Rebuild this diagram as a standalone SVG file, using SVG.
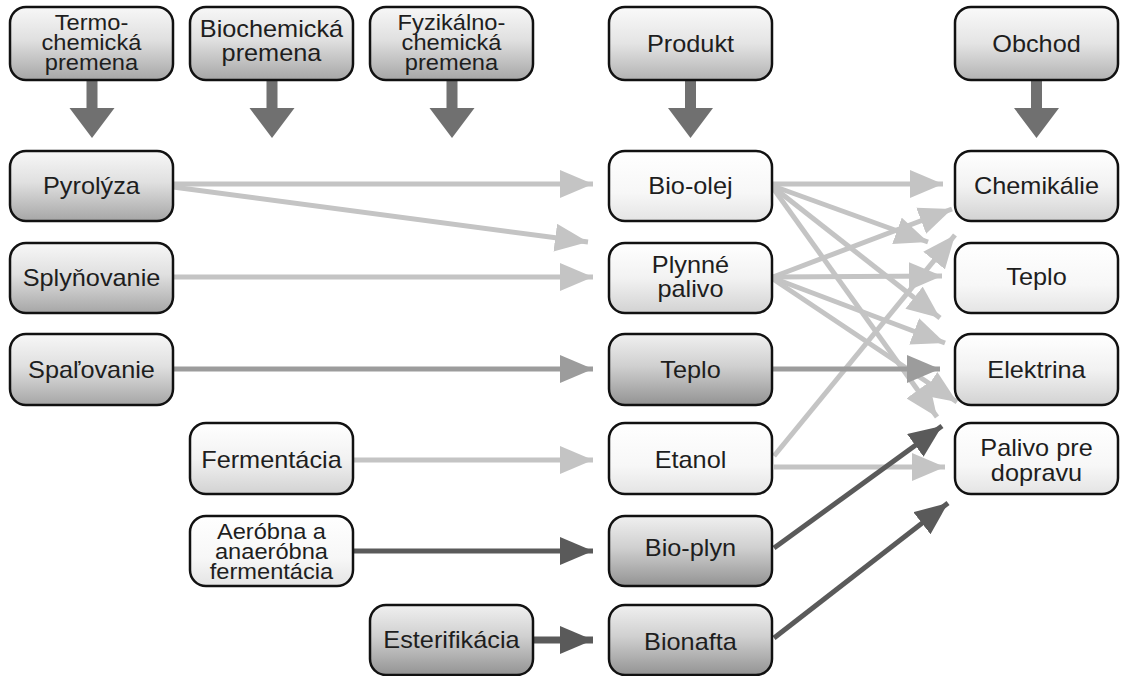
<svg xmlns="http://www.w3.org/2000/svg" width="1125" height="676" viewBox="0 0 1125 676">
<defs>
<linearGradient id="gHead" x1="0" y1="0" x2="0" y2="1"><stop offset="0" stop-color="#f7f7f7"/><stop offset="0.45" stop-color="#e0e0e0"/><stop offset="1" stop-color="#a6a6a6"/></linearGradient>
<linearGradient id="gMid" x1="0" y1="0" x2="0" y2="1"><stop offset="0" stop-color="#fafafa"/><stop offset="0.5" stop-color="#e4e4e4"/><stop offset="1" stop-color="#b2b2b2"/></linearGradient>
<linearGradient id="gDark" x1="0" y1="0" x2="0" y2="1"><stop offset="0" stop-color="#f0f0f0"/><stop offset="0.45" stop-color="#d0d0d0"/><stop offset="1" stop-color="#939393"/></linearGradient>
<linearGradient id="gLight" x1="0" y1="0" x2="0" y2="1"><stop offset="0" stop-color="#ffffff"/><stop offset="0.5" stop-color="#f2f2f2"/><stop offset="1" stop-color="#d2d2d2"/></linearGradient>
<linearGradient id="gVLight" x1="0" y1="0" x2="0" y2="1"><stop offset="0" stop-color="#ffffff"/><stop offset="0.6" stop-color="#f7f7f7"/><stop offset="1" stop-color="#e4e4e4"/></linearGradient>
<marker id="mLight" viewBox="0 0 33 28" refX="33" refY="14" markerWidth="33" markerHeight="28" markerUnits="userSpaceOnUse" orient="auto"><path d="M0,0 L33,14 L0,28 Z" fill="#c4c4c4"/></marker>
<marker id="mMed" viewBox="0 0 33 28" refX="33" refY="14" markerWidth="33" markerHeight="28" markerUnits="userSpaceOnUse" orient="auto"><path d="M0,0 L33,14 L0,28 Z" fill="#9c9c9c"/></marker>
<marker id="mDark" viewBox="0 0 33 28" refX="33" refY="14" markerWidth="33" markerHeight="28" markerUnits="userSpaceOnUse" orient="auto"><path d="M0,0 L33,14 L0,28 Z" fill="#5a5a5a"/></marker>
</defs>
<style>
.box{stroke:#111;stroke-width:2.5}
.t{font-family:"Liberation Sans",Arial,sans-serif;font-size:23px;fill:#1e1e1e;text-anchor:middle;transform-box:fill-box;transform-origin:center;transform:scaleX(1.1)}
.m{font-size:21.5px}
.c{fill:none;stroke-linecap:butt}
.light{stroke:#c4c4c4;stroke-width:5;marker-end:url(#mLight)}
.med{stroke:#9c9c9c;stroke-width:5;marker-end:url(#mMed)}
.dark{stroke:#5a5a5a;stroke-width:5;marker-end:url(#mDark)}
.harrow{fill:#707070}
</style>
<rect width="1125" height="676" fill="#ffffff"/>

<g id="connectors">
<path class="harrow" d="M86.5,80 h11 v28 h17 l-22.5,30 l-22.5,-30 h17 z"/>
<path class="harrow" d="M266.5,80 h11 v28 h17 l-22.5,30 l-22.5,-30 h17 z"/>
<path class="harrow" d="M446.5,80 h11 v28 h17 l-22.5,30 l-22.5,-30 h17 z"/>
<path class="harrow" d="M685,80 h11 v28 h17 l-22.5,30 l-22.5,-30 h17 z"/>
<path class="harrow" d="M1031,80 h11 v28 h17 l-22.5,30 l-22.5,-30 h17 z"/>
<path class="c light" d="M173,184 L593,184"/>
<path class="c light" d="M173,187 L588,242"/>
<path class="c light" d="M173,277 L593,277"/>
<path class="c med" d="M173,369 L593,369"/>
<path class="c light" d="M353,460 L593,460"/>
<path class="c dark" d="M353,551 L593,551"/>
<path class="c dark" style="stroke-width:7" d="M533,640 L593,640"/>
<path class="c light" d="M773,184 L943,184"/>
<path class="c light" d="M773,186 L928,242"/>
<path class="c light" d="M773,187 L940,318"/>
<path class="c light" d="M773,188 L937,417"/>
<path class="c light" d="M773,277 L952,209"/>
<path class="c light" d="M773,277 L942,276"/>
<path class="c light" d="M773,278 L945,343"/>
<path class="c light" d="M773,279 L957,402"/>
<path class="c light" d="M774,456 L955,235"/>
<path class="c light" d="M774,467 L945,467"/>
<path class="c med" d="M772,369 L940,369"/>
<path class="c dark" d="M774,548 L942,426"/>
<path class="c dark" d="M774,638 L948,503"/>
</g>

<g id="n_termo"><rect class="box" x="10" y="7" width="163" height="73" rx="16" fill="url(#gHead)"/><text class="t m"><tspan x="91.5" y="30">Termo-</tspan><tspan x="91.5" y="50">chemická</tspan><tspan x="91.5" y="70">premena</tspan></text></g>
<g id="n_bio"><rect class="box" x="190" y="7" width="163" height="73" rx="16" fill="url(#gHead)"/><text class="t"><tspan x="271.5" y="37">Biochemická</tspan><tspan x="271.5" y="61">premena</tspan></text></g>
<g id="n_fyz"><rect class="box" x="370" y="7" width="163" height="73" rx="16" fill="url(#gHead)"/><text class="t m"><tspan x="451.5" y="30">Fyzikálno-</tspan><tspan x="451.5" y="50">chemická</tspan><tspan x="451.5" y="70">premena</tspan></text></g>
<g id="n_produkt"><rect class="box" x="609" y="7" width="163" height="73" rx="16" fill="url(#gMid)"/><text class="t" x="690.5" y="52">Produkt</text></g>
<g id="n_obchod"><rect class="box" x="955" y="7" width="163" height="73" rx="16" fill="url(#gMid)"/><text class="t" x="1036.5" y="52">Obchod</text></g>

<g id="n_pyrolyza"><rect class="box" x="10" y="151" width="163" height="70" rx="16" fill="url(#gHead)"/><text class="t" x="91.5" y="194">Pyrolýza</text></g>
<g id="n_splynovanie"><rect class="box" x="10" y="243" width="163" height="70" rx="16" fill="url(#gHead)"/><text class="t" x="91.5" y="286">Splyňovanie</text></g>
<g id="n_spalovanie"><rect class="box" x="10" y="334" width="163" height="71" rx="16" fill="url(#gHead)"/><text class="t" x="91.5" y="378">Spaľovanie</text></g>
<g id="n_fermentacia"><rect class="box" x="190" y="423" width="163" height="71" rx="16" fill="url(#gLight)"/><text class="t" x="271.5" y="468">Fermentácia</text></g>
<g id="n_aerobna"><rect class="box" x="190" y="516" width="163" height="70" rx="16" fill="url(#gVLight)"/><text class="t m"><tspan x="271.5" y="539">Aeróbna a</tspan><tspan x="271.5" y="559">anaeróbna</tspan><tspan x="271.5" y="579">fermentácia</tspan></text></g>
<g id="n_esterifikacia"><rect class="box" x="370" y="605" width="163" height="70" rx="16" fill="url(#gDark)"/><text class="t" x="451.5" y="648">Esterifikácia</text></g>

<g id="n_bioolej"><rect class="box" x="609" y="151" width="163" height="70" rx="16" fill="url(#gVLight)"/><text class="t" x="690.5" y="194">Bio-olej</text></g>
<g id="n_plynne"><rect class="box" x="609" y="243" width="163" height="70" rx="16" fill="url(#gLight)"/><text class="t"><tspan x="690.5" y="273">Plynné</tspan><tspan x="690.5" y="297">palivo</tspan></text></g>
<g id="n_teplo_p"><rect class="box" x="609" y="334" width="163" height="71" rx="16" fill="url(#gDark)"/><text class="t" x="690.5" y="378">Teplo</text></g>
<g id="n_etanol"><rect class="box" x="609" y="423" width="163" height="71" rx="16" fill="url(#gVLight)"/><text class="t" x="690.5" y="468">Etanol</text></g>
<g id="n_bioplyn"><rect class="box" x="609" y="516" width="163" height="70" rx="16" fill="url(#gDark)"/><text class="t" x="690.5" y="556">Bio-plyn</text></g>
<g id="n_bionafta"><rect class="box" x="609" y="605" width="163" height="70" rx="16" fill="url(#gDark)"/><text class="t" x="690.5" y="650">Bionafta</text></g>

<g id="n_chemikalie"><rect class="box" x="955" y="151" width="163" height="70" rx="16" fill="url(#gLight)"/><text class="t" x="1036.5" y="194">Chemikálie</text></g>
<g id="n_teplo_o"><rect class="box" x="955" y="243" width="163" height="70" rx="16" fill="url(#gVLight)"/><text class="t" x="1036.5" y="285">Teplo</text></g>
<g id="n_elektrina"><rect class="box" x="955" y="334" width="163" height="71" rx="16" fill="url(#gLight)"/><text class="t" x="1036.5" y="378">Elektrina</text></g>
<g id="n_palivo"><rect class="box" x="955" y="423" width="163" height="71" rx="16" fill="url(#gVLight)"/><text class="t"><tspan x="1036.5" y="456">Palivo pre</tspan><tspan x="1036.5" y="481">dopravu</tspan></text></g>
</svg>
